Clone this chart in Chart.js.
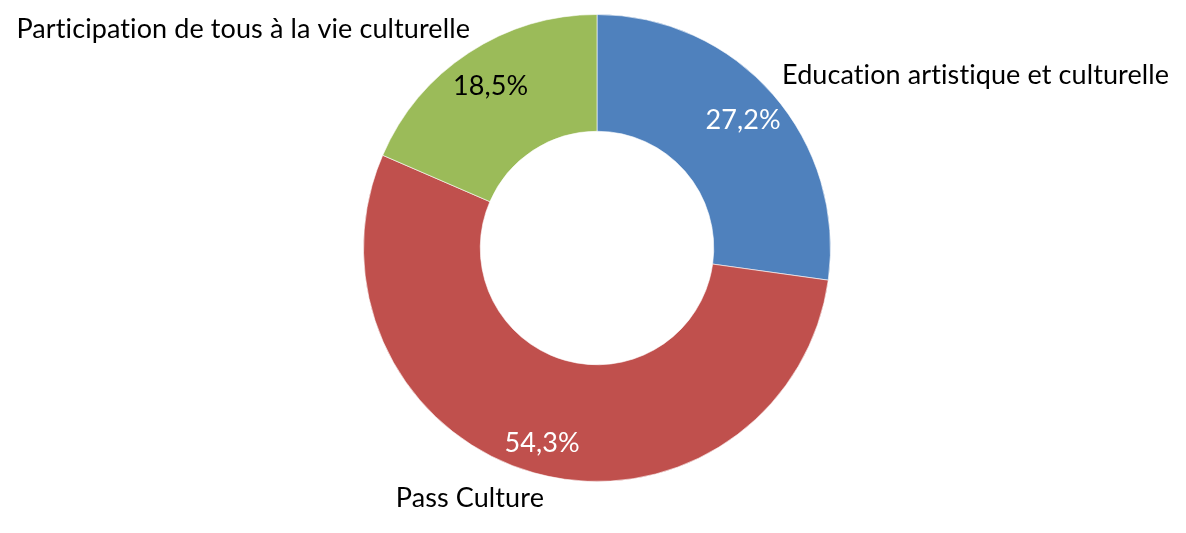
<!DOCTYPE html>
<html>
<head>
<meta charset="utf-8">
<script src="https://cdn.jsdelivr.net/npm/chart.js@4/dist/chart.umd.min.js"></script>
<style>
  html, body { margin: 0; padding: 0; background: #fff; }
  #wrap { width: 1186px; height: 533px; }
</style>
</head>
<body>
<div id="wrap"><canvas id="donut" width="1186" height="533"></canvas></div>
<script>
const categories = ["Education artistique et culturelle", "Pass Culture", "Participation de tous à la vie culturelle"]
const shares = [27.2, 54.3, 18.5]
const colors = ["#4F81BD", "#C0504D", "#9BBB59"]
const valueColors = ["#ffffff", "#ffffff", "#000000"]

// where Excel put the category names (x, y, align)
const nameSpots = [
  { x: 782, y: 75, align: "left" },
  { x: 544, y: 498, align: "right" },
  { x: 470, y: 29, align: "right" },
]

const FONT = "27px Lato, 'Open Sans', sans-serif"

const labelPlugin = {
  id: "sliceLabels",
  afterDatasetsDraw(chart) {
    const ctx = chart.ctx
    const arcs = chart.getDatasetMeta(0).data
    ctx.save()
    ctx.font = FONT
    ctx.letterSpacing = "0.1px" // keeps Lato from joining "ti"
    ctx.textBaseline = "middle"
    arcs.forEach((arc, i) => {
      const mid = (arc.startAngle + arc.endAngle) / 2
      const r = arc.outerRadius * (i === 1 ? 0.87 : 0.83)
      const x = arc.x + Math.cos(mid) * r
      const y = arc.y + Math.sin(mid) * r
      ctx.fillStyle = valueColors[i]
      ctx.textAlign = "center"
      ctx.fillText(shares[i].toFixed(1).replace(".", ",") + "%", x, y)

      const spot = nameSpots[i]
      ctx.fillStyle = "#000000"
      ctx.textAlign = spot.align
      ctx.fillText(categories[i], spot.x, spot.y)
    })
    ctx.restore()
  },
}

new Chart(document.getElementById("donut"), {
  type: "doughnut",
  data: {
    labels: categories,
    datasets: [
      {
        data: shares,
        backgroundColor: colors,
        borderColor: "rgba(255,255,255,0.6)",
        borderWidth: 1,
      },
    ],
  },
  options: {
    responsive: false,
    animation: false,
    cutout: "50%",
    layout: { padding: { top: 14, bottom: 51, left: 8, right: 0 } },
    plugins: {
      legend: { display: false },
      tooltip: { enabled: false },
    },
  },
  plugins: [labelPlugin],
})
</script>
</body>
</html>
